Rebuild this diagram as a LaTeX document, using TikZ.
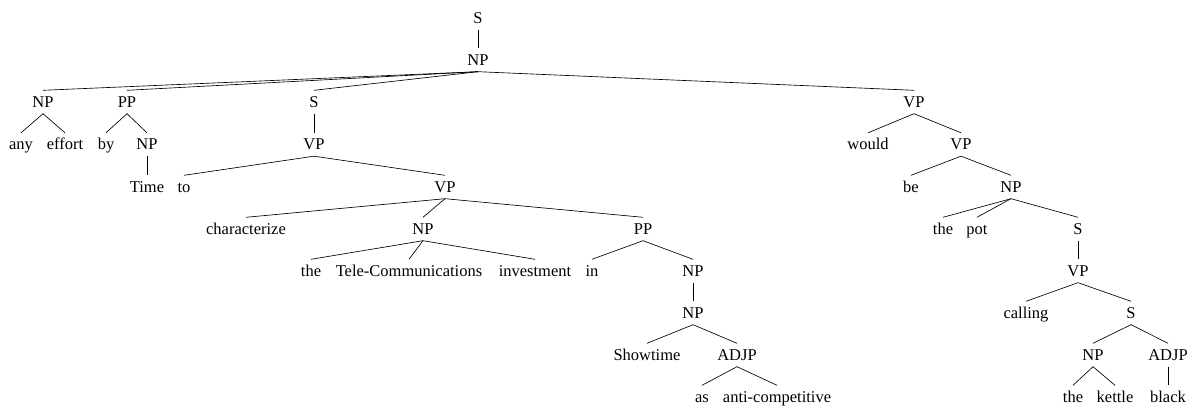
\documentclass[tikz,border=0pt]{standalone}
\usepackage{fontspec}
\setmainfont{Liberation Serif}
\begin{document}
\begin{tikzpicture}[x=1pt,y=1pt,
  lbl/.style={inner sep=0pt, text height=11pt, text depth=0pt, minimum height=23pt,
              font=\fontsize{16.5}{20}\selectfont},
  br/.style={line width=0.65pt}]
\useasboundingbox (0,0) rectangle (1193,407);
% level heights (caps middle), top to bottom
\def\lA{389}\def\lB{347}\def\lC{305}\def\lD{262.5}\def\lE{220}
\def\lF{178}\def\lG{136}\def\lH{94}\def\lI{52}\def\lJ{10}
% root and subject NP
\node[lbl] (s0) at (478,\lA) {S};
\node[lbl] (np0) at (478,\lB) {NP};
% any effort
\node[lbl] (np1) at (43,\lC) {NP};
\node[lbl] (any) at (21,\lD) {any};
\node[lbl] (effort) at (65,\lD) {effort};
% by Time
\node[lbl] (pp1) at (127,\lC) {PP};
\node[lbl] (by) at (106,\lD) {by};
\node[lbl] (np2) at (147,\lD) {NP};
\node[lbl] (time) at (147,\lE) {Time};
% to characterize ...
\node[lbl] (s1) at (314,\lC) {S};
\node[lbl] (vp1) at (314,\lD) {VP};
\node[lbl] (to) at (184,\lE) {to};
\node[lbl] (vp2) at (445,\lE) {VP};
\node[lbl] (char) at (246,\lF) {characterize};
\node[lbl] (np3) at (423,\lF) {NP};
\node[lbl] (the1) at (311,\lG) {the};
\node[lbl] (tele) at (409,\lG) {Tele-Communications};
\node[lbl] (inv) at (535,\lG) {investment};
\node[lbl] (pp2) at (643,\lF) {PP};
\node[lbl] (in) at (592,\lG) {in};
\node[lbl] (np4) at (693,\lG) {NP};
\node[lbl] (np5) at (693,\lH) {NP};
\node[lbl] (show) at (647,\lI) {Showtime};
\node[lbl] (adjp1) at (737,\lI) {ADJP};
\node[lbl] (as) at (702,\lJ) {as};
\node[lbl] (anti) at (777,\lJ) {anti-competitive};
% would be the pot ...
\node[lbl] (vp3) at (914,\lC) {VP};
\node[lbl] (would) at (868,\lD) {would};
\node[lbl] (vp4) at (961,\lD) {VP};
\node[lbl] (be) at (911,\lE) {be};
\node[lbl] (np6) at (1011,\lE) {NP};
\node[lbl] (the2) at (943,\lF) {the};
\node[lbl] (pot) at (977,\lF) {pot};
\node[lbl] (s2) at (1078,\lF) {S};
\node[lbl] (vp5) at (1078,\lG) {VP};
\node[lbl] (calling) at (1026,\lH) {calling};
\node[lbl] (s3) at (1131,\lH) {S};
\node[lbl] (np7) at (1093,\lI) {NP};
\node[lbl] (the3) at (1073,\lJ) {the};
\node[lbl] (kettle) at (1115,\lJ) {kettle};
\node[lbl] (adjp2) at (1168,\lI) {ADJP};
\node[lbl] (black) at (1168,\lJ) {black};
% branches
\foreach \p/\c in {s0/np0, np0/np1, np0/pp1, np0/s1, np0/vp3,
  np1/any, np1/effort, pp1/by, pp1/np2, np2/time,
  s1/vp1, vp1/to, vp1/vp2, vp2/char, vp2/np3, vp2/pp2,
  np3/the1, np3/tele, np3/inv, pp2/in, pp2/np4, np4/np5,
  np5/show, np5/adjp1, adjp1/as, adjp1/anti,
  vp3/would, vp3/vp4, vp4/be, vp4/np6, np6/the2, np6/pot, np6/s2,
  s2/vp5, vp5/calling, vp5/s3, s3/np7, s3/adjp2, np7/the3, np7/kettle, adjp2/black}
  \draw[br] (\p.south) -- (\c.north);
\end{tikzpicture}
\end{document}
